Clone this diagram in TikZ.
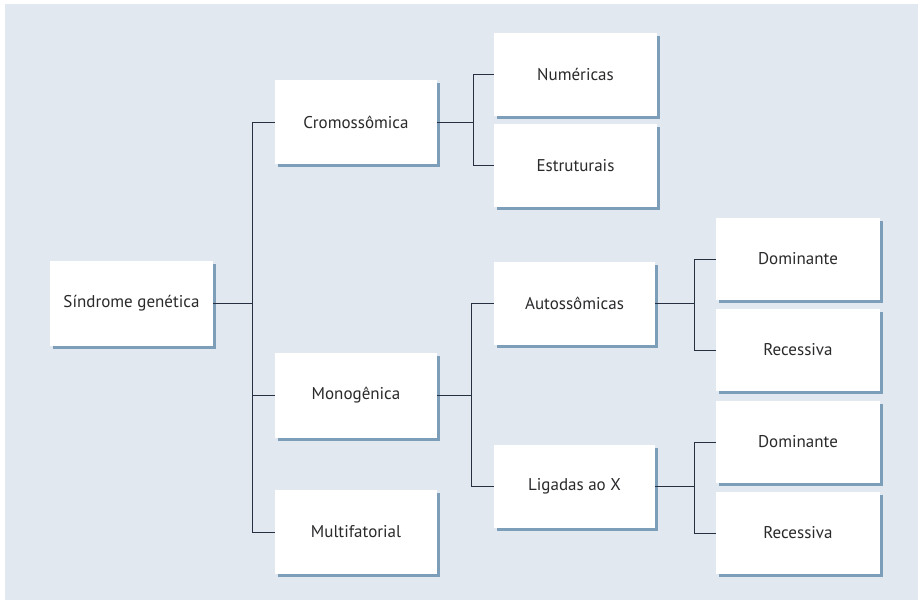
\documentclass[tikz,border=0pt]{standalone}
\usepackage{fontspec}
\setmainfont{PT Sans}
\usetikzlibrary{shadows}
\definecolor{bgcol}{RGB}{225,232,240}
\definecolor{shcol}{RGB}{125,158,185}
\definecolor{linecol}{RGB}{38,48,64}
\definecolor{txtcol}{RGB}{42,42,45}
\tikzset{
  box/.style={rectangle, fill=white, inner sep=0pt, text=txtcol,
    font=\fontsize{17}{20}\selectfont,
    drop shadow={shadow xshift=2.5pt, shadow yshift=-2.5pt, fill=shcol, opacity=1}},
  conn/.style={draw=linecol, line width=0.9pt}
}
\begin{document}
\begin{tikzpicture}[x=1pt,y=-1pt]
\useasboundingbox (0,0) rectangle (918,600);
\fill[bgcol] (5,4) rectangle (918,600);
% level 0
\node[box, minimum width=163pt, minimum height=85pt] (sg) at (131.5,303.5) {Síndrome genética};
% level 1
\node[box, minimum width=162pt, minimum height=84pt] (cr) at (356,122) {Cromossômica};
\node[box, minimum width=162pt, minimum height=85pt] (mo) at (356,395.5) {Monogênica};
\node[box, minimum width=162pt, minimum height=84pt] (mu) at (356,532) {Multifatorial};
% level 2
\node[box, minimum width=163pt, minimum height=83pt] (nu) at (575.5,74.5) {Numéricas};
\node[box, minimum width=163pt, minimum height=83pt] (es) at (575.5,165.5) {Estruturais};
\node[box, minimum width=161pt, minimum height=83pt] (au) at (574.5,303.5) {Autossômicas};
\node[box, minimum width=161pt, minimum height=83pt] (li) at (574.5,486.5) {Ligadas ao X};
% level 3
\node[box, minimum width=164pt, minimum height=82pt] (d1) at (798,259) {Dominante};
\node[box, minimum width=164pt, minimum height=82pt] (r1) at (798,350) {Recessiva};
\node[box, minimum width=164pt, minimum height=82pt] (d2) at (798,442) {Dominante};
\node[box, minimum width=164pt, minimum height=82pt] (r2) at (798,533) {Recessiva};
% junctions
\coordinate (j0) at (252,303.5);
\coordinate (j1) at (473,122);
\coordinate (j2) at (471,395.5);
\coordinate (j3) at (694,303.5);
\coordinate (j4) at (694,486.5);
% connectors
\draw[conn] (sg.east) -- (j0);
\draw[conn] (j0) |- (cr.west);
\draw[conn] (j0) |- (mo.west);
\draw[conn] (j0) |- (mu.west);
\draw[conn] (cr.east) -- (j1);
\draw[conn] (j1) |- (nu.west);
\draw[conn] (j1) |- (es.west);
\draw[conn] (mo.east) -- (j2);
\draw[conn] (j2) |- (au.west);
\draw[conn] (j2) |- (li.west);
\draw[conn] (au.east) -- (j3);
\draw[conn] (j3) |- (d1.west);
\draw[conn] (j3) |- (r1.west);
\draw[conn] (li.east) -- (j4);
\draw[conn] (j4) |- (d2.west);
\draw[conn] (j4) |- (r2.west);
\end{tikzpicture}
\end{document}
